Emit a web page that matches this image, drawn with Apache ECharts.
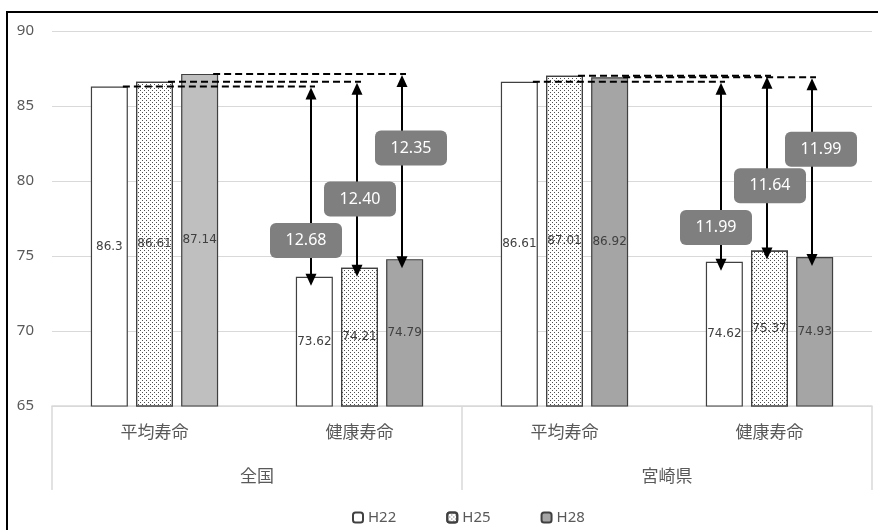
<!DOCTYPE html>
<html>
<head>
<meta charset="utf-8">
<script src="https://cdn.jsdelivr.net/npm/echarts@6/dist/echarts.min.js"></script>
<style>
  html, body { margin: 0; padding: 0; background: #fff; }
  #chart { width: 878px; height: 530px; }
</style>
</head>
<body>
<div id="chart"></div>
<script>
// Categories: indicator (lower row) and region (upper row)
const categories = ['平均寿命', '健康寿命', '平均寿命', '健康寿命'];
const regions = ['全国', '宮崎県'];
const seriesNames = ['H22', 'H25', 'H28'];

// Values per survey year, in category order
const h22 = [86.3, 73.62, 86.61, 74.62];
const h25 = [86.61, 74.21, 87.01, 75.37];
const h28 = [87.14, 74.79, 86.92, 74.93];

const yTicks = { min: 65, max: 90, interval: 5 };

const BAR_W = 37;
const GAP_RATIO = 0.22;
const AXIS_GREY = '#595959';
const LINE_GREY = '#d9d9d9';
const EDGE = '#404040';

const chart = echarts.init(document.getElementById('chart'), null, { renderer: 'canvas' });

// Gap markers: from each region's 平均寿命 bar to its 健康寿命 bar, per year
const yearValues = [h22, h25, h28];
const gapItems = [];
regions.forEach((r, ri) => {
  yearValues.forEach((vals, si) => {
    const ac = ri * 2, hc = ri * 2 + 1;
    gapItems.push([hc, si, ac, vals[ac], vals[hc]]);
  });
});

// Where the value box sits along each arrow, and its sideways shift
const boxFrac = [0.19, 0.37, 0.6];
const boxShift = [-5, 3, 9];

function renderGap(params, api) {
  const hc = api.value(0), s = api.value(1), ac = api.value(2);
  const av = api.value(3), hv = api.value(4);
  const step = BAR_W * (1 + GAP_RATIO);
  const off = (s - 1) * step;
  const avgPt = api.coord([ac, av]);
  const hPt = api.coord([hc, hv]);
  const ax = Math.round(hPt[0] + off - 3);
  const yTop = avgPt[1];
  const yBot = hPt[1] + 9;
  const startX = avgPt[0] + off + BAR_W / 2 - 5;
  const boxY = api.coord([hc, hv + boxFrac[s] * (av - hv)])[1];
  const bx = ax + boxShift[s];
  const text = (av - hv).toFixed(2);
  const black = '#000';
  return {
    type: 'group',
    children: [
      { type: 'line', shape: { x1: startX, y1: yTop, x2: ax + 4, y2: yTop },
        style: { stroke: black, lineWidth: 2, lineDash: [7, 4] } },
      { type: 'line', shape: { x1: ax, y1: yTop + 10, x2: ax, y2: yBot - 10 },
        style: { stroke: black, lineWidth: 2 } },
      { type: 'polygon', shape: { points: [[ax, yTop + 1], [ax - 5.5, yTop + 13], [ax + 5.5, yTop + 13]] },
        style: { fill: black } },
      { type: 'polygon', shape: { points: [[ax, yBot], [ax - 5.5, yBot - 12], [ax + 5.5, yBot - 12]] },
        style: { fill: black } },
      { type: 'rect', shape: { x: bx - 36, y: boxY - 17.5, width: 72, height: 35, r: 6 },
        style: { fill: '#7f7f7f' } },
      { type: 'text', x: bx, y: boxY,
        style: { text: text, fill: '#fff', font: '16px "Noto Sans"', align: 'center', verticalAlign: 'middle' } }
    ]
  };
}

const barLabel = {
  show: true,
  position: 'inside',
  color: EDGE,
  fontFamily: 'DejaVu Sans',
  fontSize: 12
};

// Sparse staggered dots for the H25 bars
const dotted = {
  symbol: 'rect',
  symbolSize: 1,
  color: '#505050',
  dashArrayX: [[1, 3], [0, 2, 1, 1]],
  dashArrayY: [1, 1]
};

const option = {
  animation: false,
  textStyle: { fontFamily: '"Noto Sans CJK JP", "Noto Sans", sans-serif' },
  graphic: [{
    type: 'rect', silent: true, z: 100,
    shape: { x: 7, y: 12, width: 900, height: 600 },
    style: { fill: null, stroke: '#000', lineWidth: 2 }
  }],
  grid: { left: 52, right: 6, top: 31, bottom: 124, containLabel: false },
  legend: {
    data: seriesNames,
    left: 347,
    top: 505,
    itemWidth: 10,
    itemHeight: 10,
    itemGap: 50,
    textStyle: { color: AXIS_GREY, fontSize: 15, fontFamily: '"Noto Sans"' }
  },
  xAxis: [
    {
      type: 'category',
      data: categories,
      axisLine: { lineStyle: { color: LINE_GREY, width: 1.5 } },
      axisTick: { show: false },
      axisLabel: { color: AXIS_GREY, fontSize: 17, margin: 17 }
    },
    {
      type: 'category',
      data: regions,
      position: 'bottom',
      axisLine: { show: false },
      axisTick: { show: true, length: 84, lineStyle: { color: LINE_GREY, width: 1.5 } },
      axisLabel: { color: AXIS_GREY, fontSize: 17, margin: 61 }
    }
  ],
  yAxis: {
    type: 'value',
    min: yTicks.min,
    max: yTicks.max,
    interval: yTicks.interval,
    axisLine: { show: false },
    axisTick: { show: false },
    axisLabel: { color: AXIS_GREY, fontSize: 15, margin: 18, fontFamily: '"Noto Sans"' },
    splitLine: { lineStyle: { color: LINE_GREY, width: 1 } }
  },
  series: [
    {
      name: 'H22', type: 'bar', data: h22, barWidth: BAR_W, barGap: (GAP_RATIO * 100) + '%',
      itemStyle: { color: '#ffffff', borderColor: EDGE, borderWidth: 1.2 },
      label: barLabel
    },
    {
      name: 'H25', type: 'bar', data: h25, barWidth: BAR_W, barGap: (GAP_RATIO * 100) + '%',
      itemStyle: { color: '#ffffff', borderColor: EDGE, borderWidth: 1.2, decal: dotted },
      label: barLabel
    },
    {
      name: 'H28', type: 'bar', barWidth: BAR_W, barGap: (GAP_RATIO * 100) + '%',
      data: h28.map((v, i) => i === 0 ? { value: v, itemStyle: { color: '#bfbfbf' } } : v),
      itemStyle: { color: '#a5a5a5', borderColor: EDGE, borderWidth: 1.2 },
      label: barLabel
    },
    {
      name: 'gap', type: 'custom', z: 10,
      renderItem: renderGap,
      data: gapItems,
      encode: { x: 0, y: 4 },
      silent: true
    }
  ]
};

chart.setOption(option);
</script>
</body>
</html>
